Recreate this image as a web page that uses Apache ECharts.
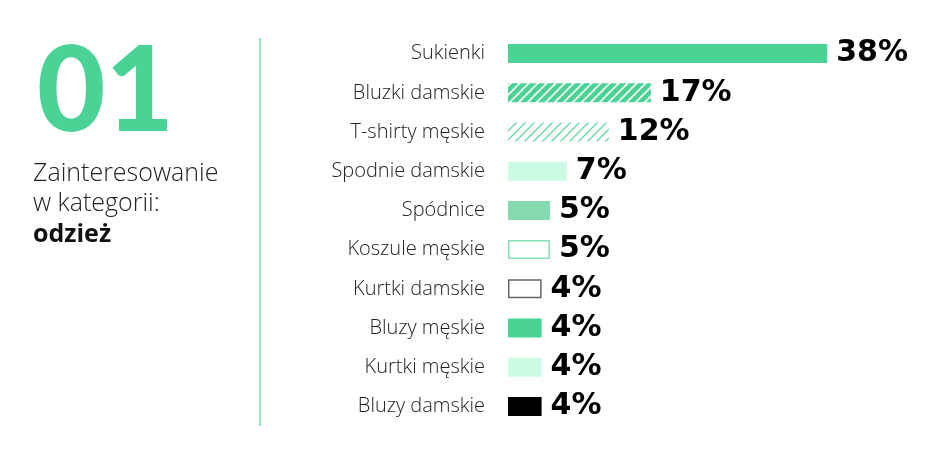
<!DOCTYPE html>
<html>
<head>
<meta charset="utf-8">
<script src="https://cdn.jsdelivr.net/npm/echarts@6/dist/echarts.min.js"></script>
<style>
  html, body { margin: 0; padding: 0; background: #fff; }
  #chart { width: 945px; height: 460px; }
</style>
</head>
<body>
<div id="chart"></div>
<script>
// categories top to bottom
const categories = ['Sukienki', 'Bluzki damskie', 'T-shirty męskie', 'Spodnie damskie', 'Spódnice',
  'Koszule męskie', 'Kurtki damskie', 'Bluzy męskie', 'Kurtki męskie', 'Bluzy damskie']
const values = [38, 17, 12, 7, 5, 5, 4, 4, 4, 4]
const headNumber = '01'
const headLines = ['Zainteresowanie', 'w kategorii:']
const headBold = 'odzież'

const GREEN = '#4AD395'
const MINT = '#CCFBE3'

// diagonal stripe patterns
function stripes(bg, fg, lw) {
  const c = document.createElement('canvas')
  c.width = 9; c.height = 9
  const ctx = c.getContext('2d')
  if (bg) { ctx.fillStyle = bg; ctx.fillRect(0, 0, 9, 9) }
  ctx.strokeStyle = fg
  ctx.lineWidth = lw
  ctx.beginPath()
  ctx.moveTo(-1, 10); ctx.lineTo(10, -1)
  ctx.moveTo(-1, 1); ctx.lineTo(1, -1)
  ctx.moveTo(8, 10); ctx.lineTo(10, 8)
  ctx.stroke()
  return { image: c, repeat: 'repeat' }
}

const styles = [
  { color: GREEN },
  { color: stripes(GREEN, '#ffffff', 1.6) },
  { color: stripes('#ffffff', GREEN, 1.2) },
  { color: MINT },
  { color: '#85D9AF' },
  { color: '#ffffff', borderColor: '#85E0B5', borderWidth: 1.5 },
  { color: '#ffffff', borderColor: '#666666', borderWidth: 1.5 },
  { color: GREEN },
  { color: MINT },
  { color: '#000000' }
]

var chart = echarts.init(document.getElementById('chart'))

chart.setOption({
  animation: false,
  grid: { left: 508, top: 34, width: 420, height: 392, containLabel: false },
  xAxis: { type: 'value', min: 0, max: 50, show: false },
  yAxis: {
    type: 'category',
    data: categories,
    inverse: true,
    axisLine: { show: false },
    axisTick: { show: false },
    axisLabel: { fontFamily: 'Open Sans', fontSize: 20, fontWeight: 300, color: '#222', margin: 23, padding: [5, 0, 0, 0] }
  },
  series: [{
    type: 'bar',
    barWidth: 19,
    data: values.map((v, i) => ({ value: v, itemStyle: styles[i] })),
    label: {
      show: true,
      position: 'right',
      distance: 9,
      padding: [4, 0, 0, 0],
      formatter: '{c}%',
      fontFamily: 'DejaVu Sans',
      fontSize: 30,
      fontWeight: 'bold',
      color: '#000'
    }
  }],
  graphic: [
    { type: 'line', shape: { x1: 260, y1: 38, x2: 260, y2: 426 }, style: { stroke: '#9BE5C3', lineWidth: 2 } },
    { type: 'text', left: 37, top: 34, style: { text: headNumber, font: '900 118px Lato', fill: GREEN } },
    { type: 'text', left: 33, top: 161, style: { text: headLines[0], font: '300 25px "Open Sans"', fill: '#222' } },
    { type: 'text', left: 33, top: 191, style: { text: headLines[1], font: '300 25px "Open Sans"', fill: '#222' } },
    { type: 'text', left: 33, top: 222, style: { text: headBold, font: 'bold 25px "Open Sans"', fill: '#111' } }
  ]
})
</script>
</body>
</html>
